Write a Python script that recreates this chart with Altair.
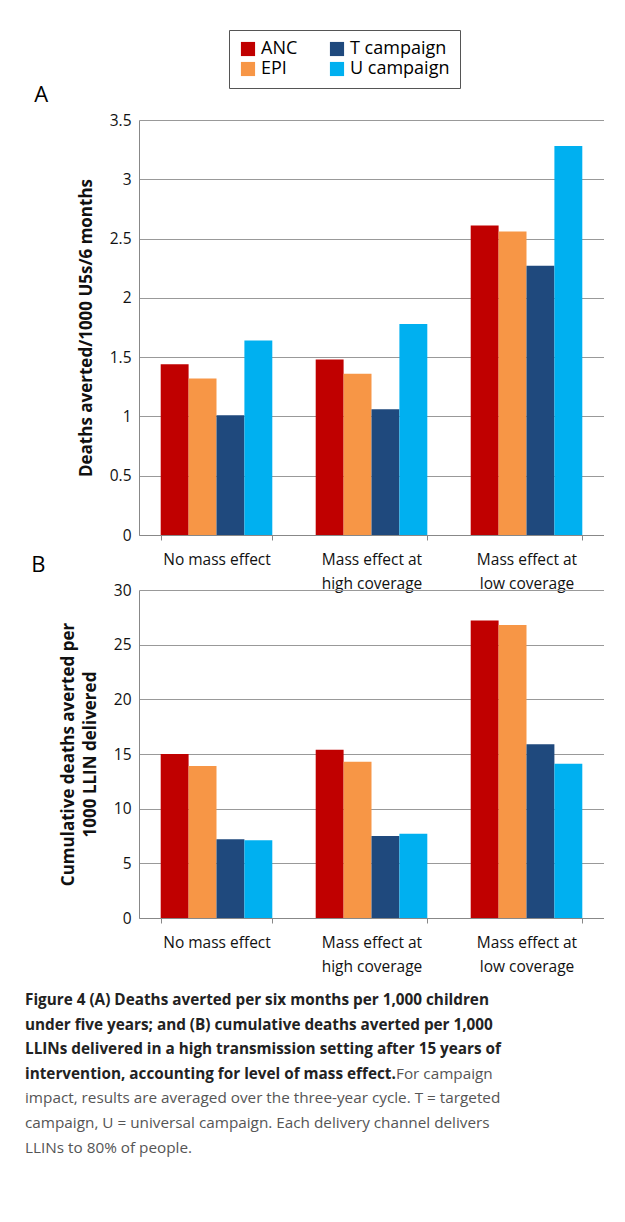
import altair as alt
import pandas as pd

groups = ["No mass effect", "Mass effect at|high coverage", "Mass effect at|low coverage"]
channels = ["ANC", "EPI", "T campaign", "U campaign"]
colors = ["#C00000", "#F79646", "#1F497D", "#00B0F0"]
vals_a = [[1.44, 1.32, 1.01, 1.64], [1.48, 1.36, 1.06, 1.78], [2.61, 2.56, 2.27, 3.28]]
vals_b = [[15.0, 13.9, 7.2, 7.1], [15.4, 14.3, 7.5, 7.7], [27.2, 26.8, 15.9, 14.1]]

caption = [
    ("Figure 4 (A) Deaths averted per six months per 1,000 children", ""),
    ("under five years; and (B) cumulative deaths averted per 1,000", ""),
    ("LLINs delivered in a high transmission setting after 15 years of", ""),
    ("intervention, accounting for level of mass effect.", " For campaign"),
    ("", "impact, results are averaged over the three-year cycle. T = targeted"),
    ("", "campaign, U = universal campaign. Each delivery channel delivers"),
    ("", "LLINs to 80% of people."),
]

def table(vals):
    rows = []
    for g, row in zip(groups, vals):
        for c, v in zip(channels, row):
            rows.append({"group": g, "channel": c, "value": v})
    return pd.DataFrame(rows)

FONT = "Open Sans"

def panel(vals, dom, ticks, ytitle, h, letter, legend, tdx):
    leg = None
    if legend:
        leg = alt.Legend(title=None, orient="none", legendX=90, legendY=-90, columns=2,
                         symbolType="square", symbolSize=200, labelFontSize=18,
                         labelFont=FONT, columnPadding=30, rowPadding=2,
                         strokeColor="#555", padding=10, symbolStrokeWidth=0)
    return alt.Chart(table(vals)).mark_bar().encode(
        x=alt.X("group:N", sort=groups, title=None,
                scale=alt.Scale(paddingInner=0.28, paddingOuter=0.14),
                axis=alt.Axis(labelExpr="split(datum.label, '|')", labelAngle=0,
                              labelFontSize=15.5, labelFont=FONT, labelColor="#111",
                              tickBand="extent", domainColor="#888", tickColor="#888",
                              labelPadding=12, labelLineHeight=24)),
        xOffset=alt.XOffset("channel:N", sort=channels, scale=alt.Scale(paddingInner=0)),
        y=alt.Y("value:Q", title=ytitle,
                scale=alt.Scale(domain=dom, nice=False),
                axis=alt.Axis(values=ticks, format="~g", labelFontSize=15.5, labelFont=FONT,
                              labelColor="#111", gridColor="#999", domainColor="#888",
                              ticks=False, labelPadding=8, titleFontSize=17,
                              titleFont=FONT, titleFontWeight="bold", titleColor="#111",
                              titlePadding=14, titleLineHeight=22)),
        color=alt.Color("channel:N", sort=channels,
                        scale=alt.Scale(domain=channels, range=colors), legend=leg),
    ).properties(width=465, height=h,
                 title=alt.TitleParams(letter, anchor="start", dx=tdx, fontSize=22,
                                       font=FONT, fontWeight="normal", offset=6))

a = panel(vals_a, [0, 3.5], [0, 0.5, 1, 1.5, 2, 2.5, 3, 3.5],
          "Deaths averted/1000 U5s/6 months", 415, "A", True, -43)
b = panel(vals_b, [0, 30], [0, 5, 10, 15, 20, 25, 30],
          ["Cumulative deaths averted per", "1000 LLIN delivered"], 328, "B", False, -28)

cap = pd.DataFrame({"line": list(range(len(caption))),
                    "bold": [c[0] for c in caption],
                    "reg": [c[1] for c in caption]})
base = alt.Chart(cap).encode(
    y=alt.Y("line:Q", axis=None, scale=alt.Scale(domain=[-1.1, 7.03], reverse=True, nice=False)))
bold = base.mark_text(align="left", baseline="middle", fontSize=15.3, fontWeight="bold",
                      font=FONT, color="#222").encode(x=alt.value(-114), text="bold:N")
reg2 = base.transform_filter("datum.line == 3").mark_text(
    align="left", baseline="middle", fontSize=15.3, font=FONT, color="#555"
).encode(x=alt.value(257), text="reg:N")
reg1 = base.transform_filter("datum.line != 3").mark_text(
    align="left", baseline="middle", fontSize=15.3, font=FONT, color="#555"
).encode(x=alt.value(-114), text="reg:N")
capchart = alt.layer(bold, reg1, reg2).properties(width=465, height=200)

chart = alt.vconcat(a, b, capchart, spacing=55, bounds="flush").configure_view(stroke=None)
chart = chart.properties(padding={"left": 17, "top": 21, "right": 0, "bottom": 5})
chart.save("out.html", embed_options={"renderer": "svg", "actions": False})
